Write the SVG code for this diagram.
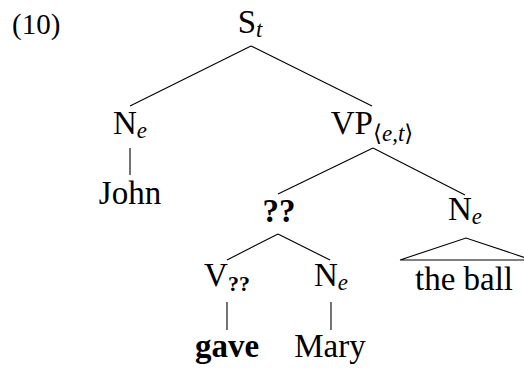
<svg xmlns="http://www.w3.org/2000/svg" width="524" height="368" viewBox="0 0 524 368">
<style>
text{font-family:"Liberation Serif","DejaVu Serif",serif;font-size:33px;fill:#000;text-anchor:middle}
.num{font-size:29px;text-anchor:start}
.sub{font-size:23px;font-style:italic}
.subb{font-size:22px;font-weight:bold}
.b{font-weight:bold}
.br{font-style:normal}
#edges line,#edges polyline{stroke:#000;stroke-width:1.1;fill:none}
</style>
<rect width="524" height="368" fill="#fff"/>
<text class="num" x="12" y="34">(10)</text>
<g id="edges">
<line x1="251" y1="46" x2="130" y2="106"/>
<line x1="251" y1="46" x2="372" y2="106"/>
<line x1="130" y1="148" x2="130" y2="175"/>
<line x1="373" y1="148" x2="278" y2="194"/>
<line x1="373" y1="148" x2="465" y2="195"/>
<line x1="278" y1="234" x2="227" y2="260"/>
<line x1="278" y1="234" x2="330" y2="260"/>
<polyline points="400,260 466,238 532,260 400,260"/>
<line x1="227" y1="302" x2="227" y2="330"/>
<line x1="331" y1="302" x2="331" y2="330"/>
</g>
<g id="S"><text x="250" y="33">S<tspan class="sub" dy="4">t</tspan></text></g>
<g id="N1"><text x="130" y="134">N<tspan class="sub" dy="4">e</tspan></text></g>
<g id="John"><text x="130" y="204">John</text></g>
<g id="VP"><text x="372" y="134">VP<tspan class="sub" dy="7"><tspan class="br">⟨</tspan>e<tspan class="br">,</tspan>t<tspan class="br">⟩</tspan></tspan></text></g>
<g id="Q"><text class="b" x="279" y="222">??</text></g>
<g id="N2"><text x="465" y="220">N<tspan class="sub" dy="4">e</tspan></text></g>
<g id="theball"><text x="464" y="290">the ball</text></g>
<g id="V"><text x="227" y="286">V<tspan class="subb" dy="5">??</tspan></text></g>
<g id="N3"><text x="331" y="286">N<tspan class="sub" dy="4">e</tspan></text></g>
<g id="gave"><text class="b" x="227" y="357">gave</text></g>
<g id="Mary"><text x="330" y="357">Mary</text></g>
</svg>
